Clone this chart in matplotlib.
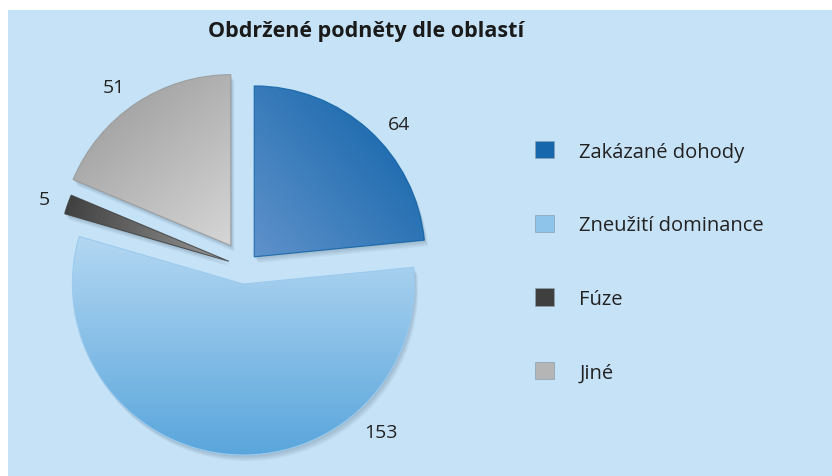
import numpy as np
import matplotlib
matplotlib.use("Agg")
import matplotlib.pyplot as plt
from matplotlib.patches import Wedge, Rectangle, Patch
from matplotlib.colors import LinearSegmentedColormap

plt.rcParams['font.family'] = ['Open Sans', 'DejaVu Sans']

# ---- data ----
title = "Obdržené podněty dle oblastí"
categories = ["Zakázané dohody", "Zneužití dominance", "Fúze", "Jiné"]
values = [64, 153, 5, 51]

# ---- styles ----
explode = [0.08, 0.10, 0.10, 0.15]
# gradient (light/dark) colours and direction (deg) for every slice
grad = [("#5f92cb", "#0b60a6", 40),
        ("#b3d7f2", "#5aa6dc", -90),
        ("#9a9a9a", "#3e3e3e", 165),
        ("#d6d6d6", "#969696", 130)]
legend_cols = ["#1767ad", "#8ec3ea", "#3f3f3f", "#b5b5b5"]
label_polar = [(42.7, 1.15), (-47.0, 1.18), (161.5, 1.14), (126.4, 1.15)]
bg = "#c6e2f6"

W, H, DPI = 832, 477, 100
R = 171.0          # pie radius in px
cx, cy = 245.0, 268.0   # pie centre in px (from top-left)

fig = plt.figure(figsize=(W / DPI, H / DPI), dpi=DPI, facecolor="white")
fig.patches.append(Rectangle((8 / W, 0), 1 - 8 / W, 1 - 11 / H,
                             transform=fig.transFigure, facecolor=bg,
                             edgecolor="none", zorder=-10))
ax = fig.add_axes([0, 0, 1, 1])
ax.set_xlim(-cx / R, (W - cx) / R)
ax.set_ylim(-(H - cy) / R, cy / R)
ax.axis("off")
ax.patch.set_alpha(0)

wedges, texts = ax.pie(values, explode=explode, startangle=90,
                       counterclock=False, radius=1.0,
                       colors=legend_cols, labels=[str(v) for v in values],
                       labeldistance=1.15,
                       wedgeprops=dict(linewidth=0.8),
                       textprops=dict(fontsize=14, color="#222222"))

# legend (before faces get replaced by gradients)
handles = [Patch(facecolor=c, edgecolor="#8aa0b0", linewidth=0.5) for c in legend_cols]
fig.legend(handles, categories, loc="upper left",
           bbox_to_anchor=(517 / W, 1 - 124 / H), frameon=False,
           fontsize=14.5, handlelength=0.95, handleheight=0.95,
           handletextpad=1.25, labelspacing=2.63, labelcolor="#222222")

for i, w in enumerate(wedges):
    c1, c2, ang = grad[i]
    # soft shadow
    for k in range(6):
        off = 0.006 * (k + 1)
        sh = Wedge((w.center[0] + off * 0.6, w.center[1] - off), w.r,
                   w.theta1, w.theta2, facecolor="#40566a",
                   edgecolor="none", alpha=0.05, zorder=1)
        ax.add_patch(sh)
    # gradient fill clipped to wedge
    ext = w.get_path().get_extents()
    x0, y0, x1, y1 = ext.x0, ext.y0, ext.x1, ext.y1
    xs = np.linspace(x0, x1, 200)
    ys = np.linspace(y0, y1, 200)
    X, Y = np.meshgrid(xs, ys)
    a = np.deg2rad(ang)
    T = (X - x0) * np.cos(a) + (Y - y0) * np.sin(a)
    T = (T - T.min()) / (T.max() - T.min() + 1e-12)
    cmap = LinearSegmentedColormap.from_list("g%d" % i, [c1, c2])
    im = ax.imshow(T, extent=(x0, x1, y0, y1), origin="lower", cmap=cmap,
                   interpolation="bilinear", zorder=2, aspect="auto")
    im.set_clip_path(w)
    w.set_facecolor("none")
    w.set_zorder(3)
    w.set_edgecolor(matplotlib.colors.to_rgba(c2, 0.8) if i != 1 else "#9ccbee")

# label placement
for i, t in enumerate(texts):
    ang, d = label_polar[i]
    w = wedges[i]
    a = np.deg2rad(ang)
    t.set_position((w.center[0] + d * np.cos(a), w.center[1] + d * np.sin(a)))
    t.set_ha("center")
    t.set_va("center")
    t.set_zorder(5)

ax.set_xlim(-cx / R, (W - cx) / R)
ax.set_ylim(-(H - cy) / R, cy / R)

fig.text(366 / W, 1 - 31 / H, title, ha="center", va="center",
         fontsize=15.5, fontweight="bold", color="#1a1a1a")

fig.savefig("out.png", dpi=DPI, facecolor=fig.get_facecolor())
